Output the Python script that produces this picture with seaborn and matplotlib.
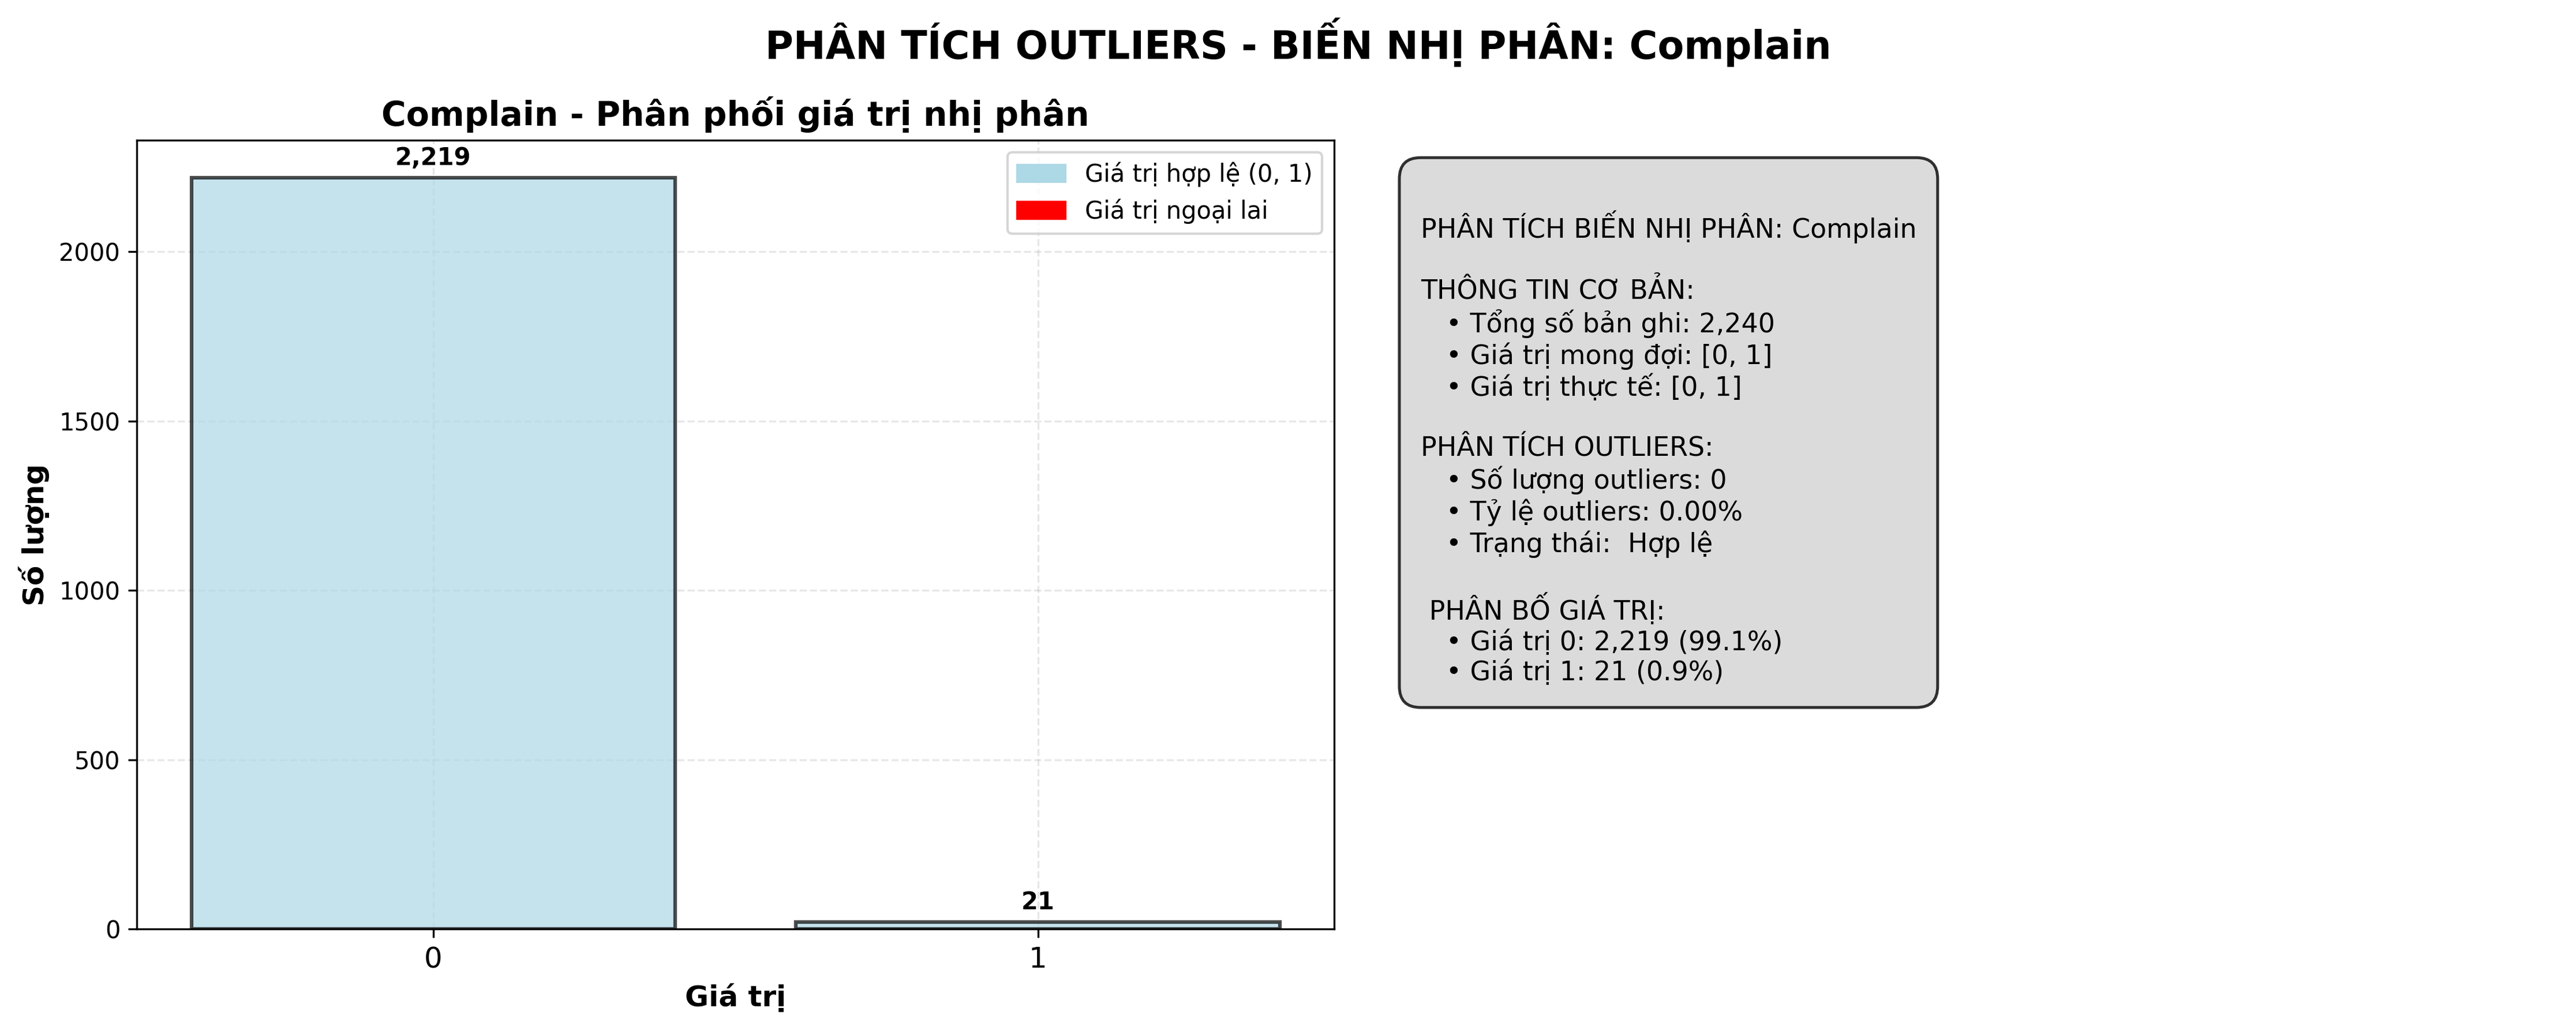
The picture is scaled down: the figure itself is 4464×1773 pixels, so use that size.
import matplotlib
matplotlib.use('Agg')
import matplotlib.pyplot as plt
import matplotlib.patches as mpatches
import seaborn as sns

# Data
var_name = 'Complain'
categories = ['0', '1']
counts = [2219, 21]
total = 2240
expected_values = [0, 1]
actual_values = [0, 1]
n_outliers = 0

sns.set_style('white')
plt.rcParams['font.family'] = ['DejaVu Sans']
plt.rcParams['text.color'] = 'black'
plt.rcParams['axes.labelcolor'] = 'black'
plt.rcParams['xtick.color'] = 'black'
plt.rcParams['ytick.color'] = 'black'

fig = plt.figure(figsize=(14.88, 5.91), dpi=300)
ax1 = fig.add_axes([0.0532, 0.092, 0.4647, 0.771])
ax2 = fig.add_axes([0.54, 0.092, 0.40, 0.771])

## ======================
## Bar chart
## ======================
sns.barplot(
    x=categories,
    y=counts,
    color='lightblue',
    saturation=1,
    alpha=0.7,
    edgecolor='black',
    linewidth=1.5,
    width=0.8,
    ax=ax1
)
ax1.set_xlim(-0.49, 1.49)
ax1.set_ylim(0, max(counts) * 1.05)

for i, c in enumerate(counts):
    ax1.text(i, c + max(counts) * 0.01, f'{c:,}', ha='center', va='bottom',
             fontweight='bold', fontsize=10)

ax1.set_title(f'{var_name} - Phân phối giá trị nhị phân', fontsize=14, fontweight='bold')
ax1.set_xlabel('Giá trị', fontsize=12, fontweight='bold')
ax1.set_ylabel('Số lượng', fontsize=12, fontweight='bold')
ax1.tick_params(axis='x', labelsize=12, length=3.5, width=0.8, bottom=True)
ax1.tick_params(axis='y', labelsize=10, length=3.5, width=0.8, left=True)
ax1.grid(True, linestyle='--', alpha=0.3, color='#b0b0b0')
for s in ax1.spines.values():
    s.set_edgecolor('black')
    s.set_linewidth(0.8)

handles = [
    mpatches.Patch(color='lightblue', label='Giá trị hợp lệ (0, 1)'),
    mpatches.Patch(color='red', label='Giá trị ngoại lai'),
]
ax1.legend(handles=handles, loc='upper right', fontsize=10)

## ======================
## Info box
## ======================
ax2.axis('off')
pct = [c / total * 100 for c in counts]
info = (
    f"\nPHÂN TÍCH BIẾN NHỊ PHÂN: {var_name}\n\n"
    f"THÔNG TIN CƠ BẢN:\n"
    f"   • Tổng số bản ghi: {total:,}\n"
    f"   • Giá trị mong đợi: {expected_values}\n"
    f"   • Giá trị thực tế: {actual_values}\n\n"
    f"PHÂN TÍCH OUTLIERS:\n"
    f"   • Số lượng outliers: {n_outliers}\n"
    f"   • Tỷ lệ outliers: {n_outliers / total * 100:.2f}%\n"
    f"   • Trạng thái:  Hợp lệ\n\n"
    f" PHÂN BỐ GIÁ TRỊ:\n"
    f"   • Giá trị 0: {counts[0]:,} ({pct[0]:.1f}%)\n"
    f"   • Giá trị 1: {counts[1]:,} ({pct[1]:.1f}%)"
)
ax2.text(0.0286, 0.951, info, transform=ax2.transAxes, fontsize=11, va='top', ha='left',
         bbox=dict(boxstyle='round,pad=0.8', facecolor='lightgray', alpha=0.8,
                   edgecolor='black', linewidth=1.2))

fig.suptitle(f'PHÂN TÍCH OUTLIERS - BIẾN NHỊ PHÂN: {var_name}', fontsize=16,
             fontweight='bold', x=0.504, y=0.983)

fig.savefig('out.png', dpi=300)
